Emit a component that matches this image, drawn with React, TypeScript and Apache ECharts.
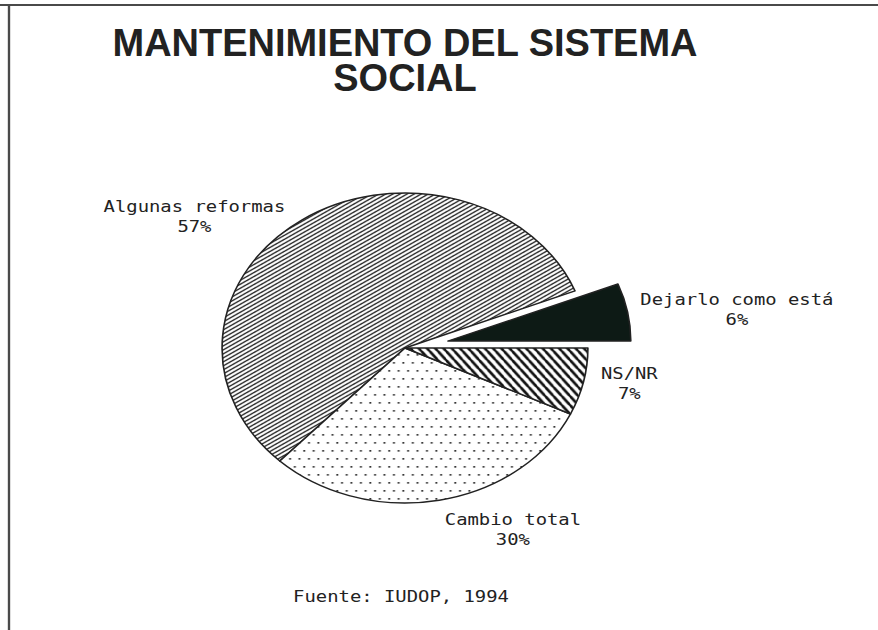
import React, { useEffect, useRef } from 'react';
import * as echarts from 'echarts';

// ---- data ----
const categories = ['Dejarlo como está', 'Algunas reformas', 'Cambio total', 'NS/NR'];
const values = [6, 57, 30, 7];
const titleLines = ['MANTENIMIENTO DEL SISTEMA', 'SOCIAL'];
const sourceText = 'Fuente: IUDOP, 1994';

// ---- layout / style (not data) ----
const labelLineLengths = [[12, -6], [4, 7], [30, -6], [10, 0]];
const SX = 1.18; // the original screen is stretched horizontally
const W = 878;
const H = 630;
const MONO = '"DejaVu Sans Mono", "Liberation Mono", monospace';

function makePattern(w: number, h: number, draw: (ctx: CanvasRenderingContext2D, w: number, h: number) => void) {
  const k = 3;
  const c = document.createElement('canvas');
  c.width = w * k;
  c.height = h * k;
  const ctx = c.getContext('2d') as CanvasRenderingContext2D;
  ctx.scale(k, k);
  ctx.fillStyle = '#ffffff';
  ctx.fillRect(0, 0, w, h);
  draw(ctx, w, h);
  return { image: c, repeat: 'repeat', imageWidth: w, imageHeight: h };
}

export default function App() {
  const ref = useRef<HTMLDivElement>(null);
  useEffect(() => {
    if (!ref.current) return;
    const chart = echarts.init(ref.current, null, { renderer: 'svg' });

    const fineHatch = makePattern(6, 4, (ctx, w, h) => {
      ctx.strokeStyle = '#1e1e1e';
      ctx.lineWidth = 1.25;
      for (let m = -2; m <= 2; m++) {
        ctx.beginPath();
        ctx.moveTo(m * w - w, 2 * h);
        ctx.lineTo(m * w + 2 * w, -h);
        ctx.stroke();
      }
    });
    const boldHatch = makePattern(7, 9, (ctx, w, h) => {
      ctx.strokeStyle = '#111111';
      ctx.lineWidth = 2.4;
      for (let m = -2; m <= 2; m++) {
        ctx.beginPath();
        ctx.moveTo(m * w - w, -h);
        ctx.lineTo(m * w + 2 * w, 2 * h);
        ctx.stroke();
      }
    });
    const dots = makePattern(8, 16, (ctx) => {
      ctx.fillStyle = '#333333';
      ctx.fillRect(1, 2, 1.7, 1.7);
      ctx.fillRect(5, 10, 1.7, 1.7);
    });
    const fills: any[] = ['#0d1a15', fineHatch, dots, boldHatch];

    const option: any = {
      animation: false,
      backgroundColor: '#ffffff',
      graphic: [
        { type: 'line', shape: { x1: 0, y1: 5, x2: W / SX, y2: 5 }, style: { stroke: '#4a4a4a', lineWidth: 2 } },
        { type: 'line', shape: { x1: 9 / SX, y1: 5, x2: 9 / SX, y2: H }, style: { stroke: '#4a4a4a', lineWidth: 2 } },
        ...titleLines.map((t, i) => ({
          type: 'text',
          x: 405 / SX,
          y: 43 + i * 35,
          scaleX: 1 / SX,
          style: {
            text: t,
            fill: '#222222',
            fontFamily: '"Liberation Sans", Arial, sans-serif',
            fontWeight: 'bold',
            fontSize: 38,
            align: 'center',
            verticalAlign: 'middle',
            textAlign: 'center',
            textVerticalAlign: 'middle',
          },
        })),
        {
          type: 'text',
          x: 401 / SX,
          y: 597,
          style: {
            text: sourceText,
            fill: '#222222',
            fontFamily: MONO,
            fontSize: 16,
            align: 'center',
            verticalAlign: 'middle',
            textAlign: 'center',
            textVerticalAlign: 'middle',
          },
        },
      ],
      series: [
        {
          type: 'pie',
          center: [405 / SX, 348],
          radius: 155,
          startAngle: 0,
          clockwise: false,
          selectedMode: 'single',
          selectedOffset: 37,
          avoidLabelOverlap: false,
          emphasis: { disabled: true },
          itemStyle: { borderColor: '#222222', borderWidth: 1.4 },
          label: {
            show: true,
            position: 'outside',
            formatter: '{t|{b}}\n{t|{c}%}',
            rich: {
              t: { align: 'center', fontFamily: MONO, fontSize: 16, lineHeight: 20, color: '#222222' },
            },
          },
          labelLine: { show: false },
          data: categories.map((name, i) => ({
            name,
            value: values[i],
            selected: i === 0,
            itemStyle: { color: fills[i] },
            labelLine: { length: labelLineLengths[i][0], length2: labelLineLengths[i][1] },
          })),
        },
      ],
    };
    chart.setOption(option);
    return () => chart.dispose();
  }, []);

  return (
    <div
      ref={ref}
      style={{
        position: 'fixed',
        left: 0,
        top: 0,
        width: W / SX,
        height: H,
        transform: `scaleX(${SX})`,
        transformOrigin: '0 0',
        background: '#ffffff',
      }}
    />
  );
}
